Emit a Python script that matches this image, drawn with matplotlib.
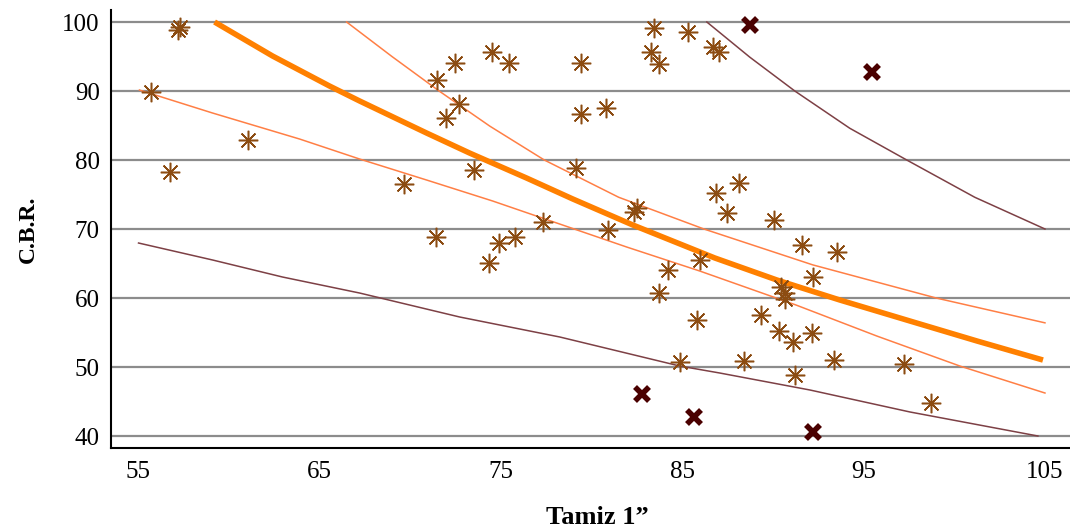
import matplotlib.pyplot as plt

plt.rcParams['font.family'] = ['Liberation Serif', 'DejaVu Serif']

# ensayos: tamiz 1" (%) vs C.B.R.
tamiz = [55.74, 56.79, 57.18, 57.29, 61.04, 69.64, 71.41, 71.47, 71.96, 72.46,
         72.68, 73.51, 74.33, 74.50, 74.88, 75.43, 75.77, 77.31, 79.13, 79.41,
         79.41, 80.79, 80.90, 82.33, 82.50, 83.43, 83.27, 83.71, 83.71, 84.21,
         84.87, 85.31, 85.81, 85.97, 86.69, 87.02, 86.85, 87.46, 88.12, 88.40,
         89.33, 90.05, 90.33, 90.44, 90.66, 90.66, 91.10, 91.21, 91.60, 92.15,
         92.20, 93.53, 93.37, 97.22, 98.71]
cbr = [89.86, 78.26, 98.84, 99.28, 82.90, 76.52, 68.84, 91.59, 86.09, 94.06,
       88.12, 78.55, 65.07, 95.65, 67.97, 94.06, 68.84, 71.01, 78.84, 86.67,
       94.06, 87.54, 69.86, 72.46, 73.04, 99.13, 95.65, 93.91, 60.72, 64.06,
       50.72, 98.55, 56.81, 65.51, 96.38, 95.65, 75.22, 72.32, 76.67, 50.87,
       57.54, 71.30, 55.22, 61.59, 60.72, 59.86, 53.62, 48.84, 67.68, 54.93,
       63.04, 66.67, 51.01, 50.43, 44.78]

# valores descartados
tamiz_out = [82.77, 85.64, 92.20, 88.73, 95.46]
cbr_out = [46.09, 42.75, 40.58, 99.57, 92.75]

# curva de ajuste
fit_x = [59.22, 62.42, 65.56, 67.22, 70.91, 73.28, 76.42, 78.97, 82.28, 86.80,
         90.22, 93.69, 97.55, 101.25, 104.89]
fit_y = [100.0, 95.07, 90.72, 88.55, 83.91, 81.01, 77.39, 74.35, 70.58, 65.80,
         62.61, 59.71, 56.67, 53.77, 51.01]

# banda interior
ci_up_x = [66.5, 69.0, 71.6, 74.4, 77.4, 81.5, 86.2, 92.2, 99.0, 105.0]
ci_up_y = [100.0, 95.0, 90.0, 84.9, 80.0, 74.6, 70.0, 64.8, 60.0, 56.4]
ci_lo_x = [55.08, 59.11, 63.91, 67.22, 70.91, 74.55, 78.25, 81.94, 85.97, 91.27,
           95.73, 100.31, 105.0]
ci_lo_y = [90.14, 86.81, 83.04, 80.14, 77.10, 74.06, 70.72, 67.39, 63.91, 58.99,
           54.49, 50.14, 46.23]

# banda exterior
pi_up_x = [86.36, 88.73, 91.21, 94.24, 97.38, 101.13, 105.0]
pi_up_y = [100.0, 94.9, 90.0, 84.6, 80.0, 74.6, 70.0]
pi_lo_x = [55.03, 59.11, 62.97, 67.22, 72.73, 78.25, 84.87, 87.07, 92.04, 97.56, 104.61]
pi_lo_y = [67.97, 65.51, 63.04, 60.72, 57.25, 54.35, 50.14, 49.13, 46.67, 43.48, 40.00]

fig = plt.figure(figsize=(10.7, 5.29), dpi=100)
ax = fig.add_axes([0.1037, 0.1531, 0.8963, 0.8280])

ax.plot(pi_up_x, pi_up_y, color='#7d4045', lw=1.1, zorder=3)
ax.plot(pi_lo_x, pi_lo_y, color='#7d4045', lw=1.1, zorder=3)
ax.plot(ci_up_x, ci_up_y, color='#ff7f45', lw=1.1, zorder=3)
ax.plot(ci_lo_x, ci_lo_y, color='#ff7f45', lw=1.1, zorder=3)
ax.plot(fit_x, fit_y, color='#ff8000', lw=4, zorder=4, solid_capstyle='butt')

ax.plot(tamiz, cbr, ls='none', marker=(8, 2, 0), ms=14, mew=1.1,
        color='#8c4c12', zorder=5)
ax.plot(tamiz_out, cbr_out, ls='none', marker='x', ms=10, mew=4,
        color='#4a0000', zorder=5)

ax.set_xlim(53.51, 106.38)
ax.set_ylim(38.26, 101.74)
ax.set_xticks([55, 65, 75, 85, 95, 105])
ax.set_yticks([40, 50, 60, 70, 80, 90, 100])
ax.yaxis.grid(True, color='#8c8c8c', lw=1.6)
ax.set_axisbelow(True)
ax.tick_params(length=0, labelsize=18)
ax.tick_params(axis='x', pad=9)
ax.tick_params(axis='y', pad=8)
for s in ['top', 'right']:
    ax.spines[s].set_visible(False)
ax.spines['left'].set_linewidth(1.5)
ax.spines['bottom'].set_linewidth(1.5)

ax.set_xlabel('Tamiz 1\u201d', fontsize=19, fontweight='bold', va='center')
ax.set_ylabel('C.B.R.', fontsize=17, fontweight='bold', va='center')
ax.xaxis.set_label_coords(0.507, -0.158)
ax.yaxis.set_label_coords(-0.086, 0.5)

fig.savefig('out.png', dpi=100)
